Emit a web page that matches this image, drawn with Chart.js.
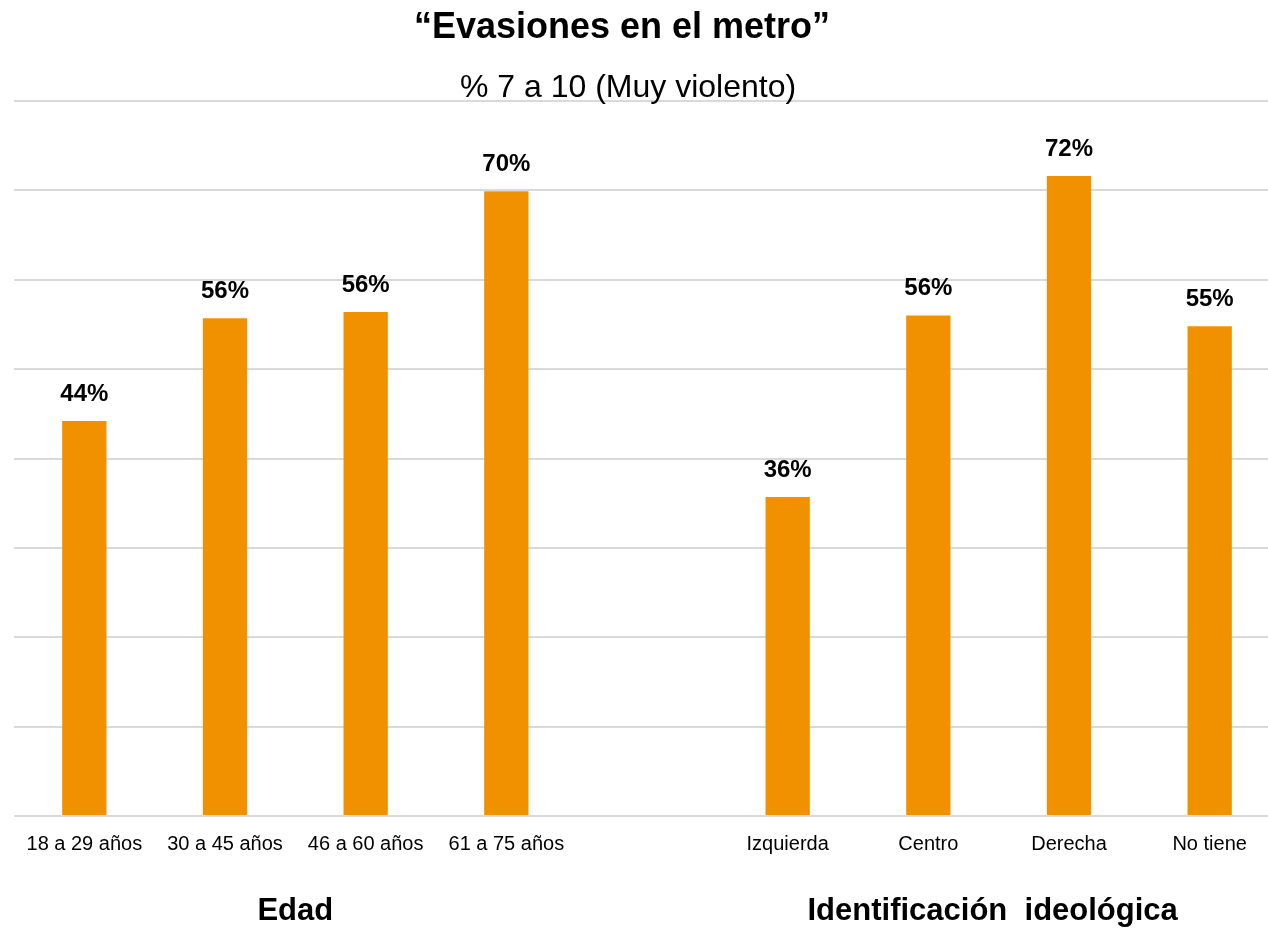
<!DOCTYPE html>
<html>
<head>
<meta charset="utf-8">
<script src="https://cdn.jsdelivr.net/npm/chart.js@4/dist/chart.umd.min.js"></script>
<style>
  html, body { margin: 0; padding: 0; background: #fff; overflow: hidden; }
  #wrap { width: 1280px; height: 928px; }
</style>
</head>
<body>
<div id="wrap"><canvas id="grafico" width="1280" height="928"></canvas></div>
<script>
const categorias = ['18 a 29 años', '30 a 45 años', '46 a 60 años', '61 a 75 años', '', 'Izquierda', 'Centro', 'Derecha', 'No tiene'];
const valores = [44.2, 55.7, 56.4, 69.9, null, 35.7, 56.0, 71.6, 54.8];
const etiquetas = ['44%', '56%', '56%', '70%', '', '36%', '56%', '72%', '55%'];
const grupos = ['Edad', 'Identificación  ideológica'];
const grupoDesde = [0, 5];
const grupoHasta = [3, 8];
const titulo = '\u201CEvasiones en el metro\u201D';
const subtitulo = '% 7 a 10 (Muy violento)';

const fuente = '"Liberation Sans", Arial, sans-serif';

// textos extra: etiquetas de valor, titulos y nombres de grupo
const extras = {
    id: 'extras',
    afterDatasetsDraw(chart) {
        const ctx = chart.ctx;
        const meta = chart.getDatasetMeta(0);
        ctx.save();
        ctx.fillStyle = '#000';
        ctx.font = 'bold 24px ' + fuente;
        ctx.textAlign = 'center';
        ctx.textBaseline = 'middle';
        meta.data.forEach((bar, i) => {
            if (valores[i] == null) return;
            ctx.fillText(etiquetas[i], bar.x, bar.y - 27);
        });
        ctx.restore();
    },
    afterDraw(chart) {
        const ctx = chart.ctx;
        const x = chart.scales.x;
        ctx.save();
        ctx.fillStyle = '#000';
        ctx.textAlign = 'center';
        ctx.textBaseline = 'middle';
        ctx.font = 'bold 36px ' + fuente;
        ctx.fillText(titulo, 622, 28);
        ctx.font = '32px ' + fuente;
        ctx.fillText(subtitulo, 628, 88);
        ctx.font = 'bold 31px ' + fuente;
        grupos.forEach((g, i) => {
            const cx = (x.getPixelForValue(grupoDesde[i]) + x.getPixelForValue(grupoHasta[i])) / 2;
            ctx.fillText(g, cx - (i == 1 ? 6 : 0), 911);
        });
        ctx.restore();
    }
};

const ctx = document.getElementById('grafico').getContext('2d');
new Chart(ctx, {
    type: 'bar',
    data: {
        labels: categorias,
        datasets: [{
            data: valores,
            backgroundColor: '#F29100',
            barPercentage: 0.315,
            categoryPercentage: 1
        }]
    },
    options: {
        responsive: false,
        animation: false,
        layout: { padding: { left: 14, right: 0, top: 101, bottom: 56 } },
        plugins: {
            legend: { display: false },
            tooltip: { enabled: false },
            title: { display: false }
        },
        scales: {
            x: {
                grid: { display: false, drawTicks: false },
                border: { display: false },
                ticks: {
                    color: '#000',
                    padding: 16,
                    autoSkip: false,
                    maxRotation: 0,
                    font: { family: fuente, size: 20 }
                }
            },
            y: {
                min: 0,
                max: 80,
                ticks: { display: false, stepSize: 10 },
                grid: { color: '#d9d9d9', lineWidth: 2, drawTicks: false },
                border: { display: false }
            }
        }
    },
    plugins: [extras]
});
</script>
</body>
</html>
